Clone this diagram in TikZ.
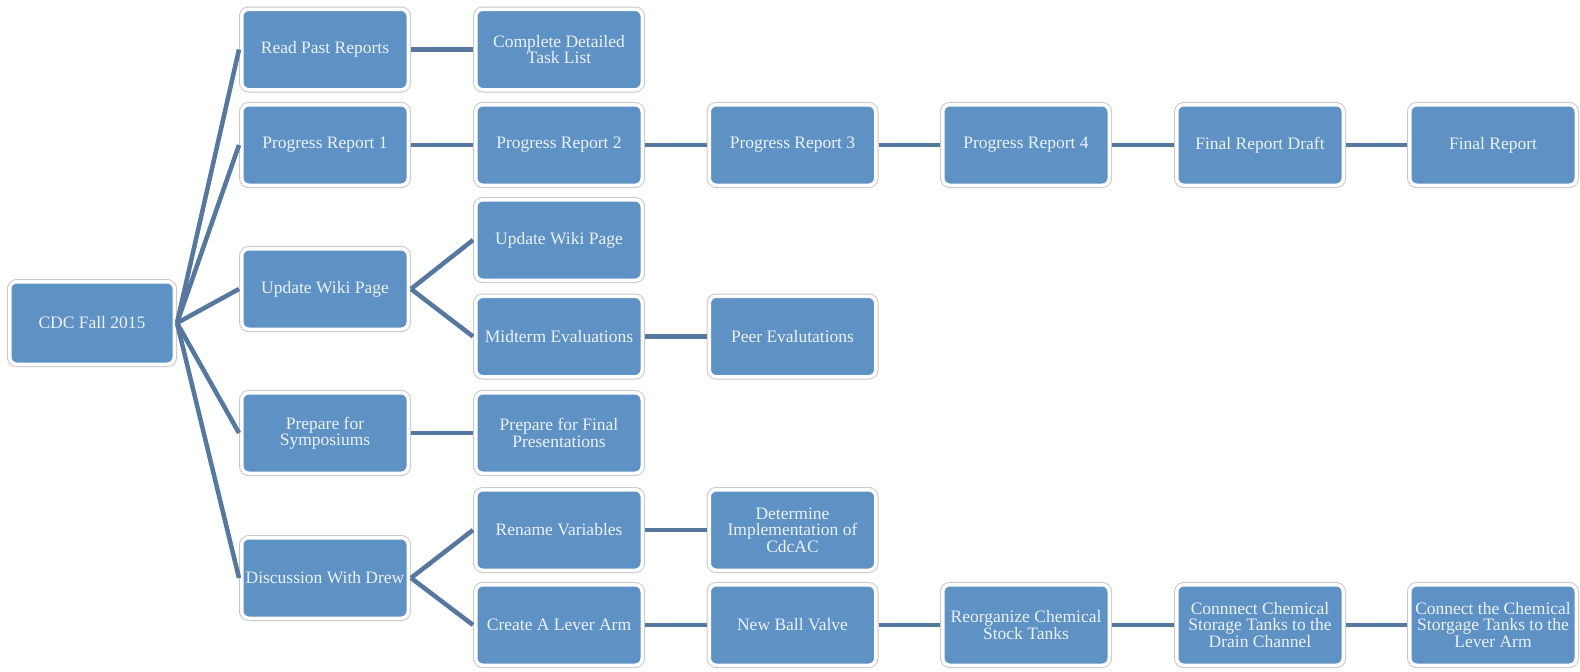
\documentclass[tikz,border=0pt]{standalone}
\usepackage{fontspec}
\setmainfont{Liberation Serif}
\definecolor{boxblue}{RGB}{94,145,196}
\definecolor{linkblue}{RGB}{86,120,158}
\definecolor{rimgray}{RGB}{200,200,200}
\definecolor{txt}{RGB}{236,242,249}
\tikzset{
  tbox/.style={rectangle, rounded corners=7pt, fill=boxblue, draw=white, line width=3.5pt,
    preaction={draw=rimgray, line width=5.5pt},
    minimum width=166.5pt, minimum height=80.5pt, inner sep=2pt, outer sep=2.75pt,
    align=center, text=txt, font=\fontsize{17.5}{16.5}\selectfont},
  link/.style={draw=linkblue, line width=4.5pt}
}
\begin{document}
\begin{tikzpicture}[x=1pt,y=-1pt]
\useasboundingbox (0,0) rectangle (1580,672);
% nodes
\node[tbox, minimum width=164.5pt, minimum height=82.5pt] (root) at (92,323) {CDC Fall 2015};
\node[tbox] (a1) at (325,49.5) {Read Past Reports};
\node[tbox, font=\fontsize{17.5}{13.5}\selectfont] (a2) at (559,49.5) {Complete Detailed\\Task List};
\node[tbox] (b1) at (325,145) {Progress Report 1};
\node[tbox] (b2) at (559,145) {Progress Report 2};
\node[tbox] (b3) at (792.5,145) {Progress Report 3};
\node[tbox] (b4) at (1026,145) {Progress Report 4};
\node[tbox] (b5) at (1260,145) {Final Report Draft};
\node[tbox] (b6) at (1493,145) {Final Report};
\node[tbox] (c1) at (325,289) {Update Wiki Page};
\node[tbox] (c2) at (559,240) {Update Wiki Page};
\node[tbox] (c3) at (559,336.5) {Midterm Evaluations};
\node[tbox] (c4) at (792.5,336.5) {Peer Evalutations};
\node[tbox, font=\fontsize{17.5}{14.5}\selectfont] (d1) at (325,433) {Prepare for\\Symposiums};
\node[tbox, font=\fontsize{17.5}{14.5}\selectfont] (d2) at (559,433) {Prepare for Final\\Presentations};
\node[tbox] (e1) at (325,578) {Discussion With Drew};
\node[tbox] (e2) at (559,530) {Rename Variables};
\node[tbox] (e3) at (792.5,530) {Determine\\Implementation of\\CdcAC};
\node[tbox] (f2) at (559,625) {Create A Lever Arm};
\node[tbox] (f3) at (792.5,625) {New Ball Valve};
\node[tbox] (f4) at (1026,625) {Reorganize Chemical\\Stock Tanks};
\node[tbox] (f5) at (1260,625) {Connnect Chemical\\Storage Tanks to the\\Drain Channel};
\node[tbox] (f6) at (1493,625) {Connect the Chemical\\Storgage Tanks to the\\Lever Arm};
% connectors
\draw[link] (root.east) -- (a1.west);
\draw[link] (root.east) -- (b1.west);
\draw[link] (root.east) -- (c1.west);
\draw[link] (root.east) -- (d1.west);
\draw[link] (root.east) -- (e1.west);
\draw[link] (a1.east) -- (a2.west);
\draw[link] (b1.east) -- (b2.west);
\draw[link] (b2.east) -- (b3.west);
\draw[link] (b3.east) -- (b4.west);
\draw[link] (b4.east) -- (b5.west);
\draw[link] (b5.east) -- (b6.west);
\draw[link] (c1.east) -- (c2.west);
\draw[link] (c1.east) -- (c3.west);
\draw[link] (c3.east) -- (c4.west);
\draw[link] (d1.east) -- (d2.west);
\draw[link] (e1.east) -- (e2.west);
\draw[link] (e2.east) -- (e3.west);
\draw[link] (e1.east) -- (f2.west);
\draw[link] (f2.east) -- (f3.west);
\draw[link] (f3.east) -- (f4.west);
\draw[link] (f4.east) -- (f5.west);
\draw[link] (f5.east) -- (f6.west);
\end{tikzpicture}
\end{document}
